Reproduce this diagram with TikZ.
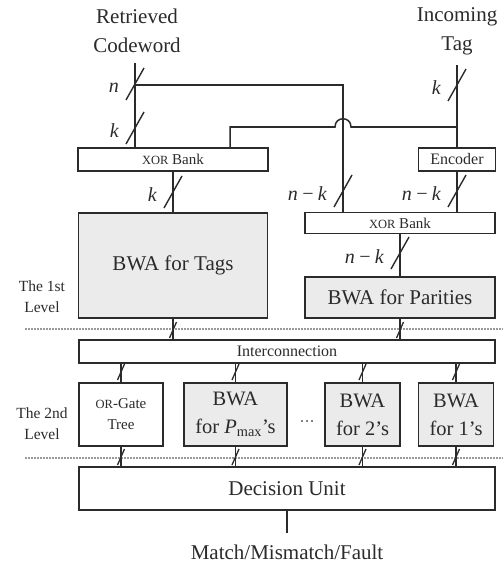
\documentclass[tikz,border=0pt]{standalone}
\usepackage{fontspec}
\setmainfont{Liberation Serif}
\usetikzlibrary{calc}
\definecolor{ink}{HTML}{2B2B2B}
\definecolor{boxgray}{HTML}{EBEBEB}
\definecolor{dotgray}{HTML}{9A9A9A}
\newcommand\fsz[2]{\fontsize{#1}{#2}\selectfont}
\begin{document}
\begin{tikzpicture}[x=1pt,y=-1pt,
  wire/.style={draw=ink,line width=1.5pt},
  blk/.style={draw=ink,line width=1.8pt,inner sep=0pt,text=ink},
  grayblk/.style={blk,fill=boxgray},
  lbl/.style={text=ink,inner sep=0pt},
  bw/.style={lbl,font=\fsz{20}{24}\itshape,anchor=east},
  dotline/.style={draw=dotgray,line width=1.2pt,dash pattern=on 1.5pt off 1.5pt},
  slashbig/.pic={\draw[draw=ink,line width=1.4pt] (-9,16) -- (9,-16);},
  slashsmall/.pic={\draw[draw=ink,line width=1.3pt] (-3.5,8) -- (3.5,-8);}
]
\fill[white] (0,0) rectangle (503,567);
\useasboundingbox (0,0) rectangle (503,567);

% texts
\node[lbl,align=center,font=\fsz{21}{29}] (rc) at (137,31) {Retrieved\\Codeword};
\node[lbl,align=center,font=\fsz{21}{29}] (it) at (457,31) {Incoming\\Tag};
\node[lbl,align=center,font=\fsz{15.5}{21}] (lv1) at (42,297) {The 1st\\Level};
\node[lbl,align=center,font=\fsz{15.5}{21}] (lv2) at (42,424) {The 2nd\\Level};

% blocks
\node[blk,minimum width=190pt,minimum height=23pt,font=\fsz{15}{15}] (xor1) at (173,159.5) {{\fsz{12.5}{12.5}XOR} Bank};
\node[blk,minimum width=77pt,minimum height=23pt,font=\fsz{16}{16}] (enc) at (457,159.5) {Encoder};
\node[grayblk,minimum width=189pt,minimum height=105pt,font=\fsz{21}{21}] (tags) at (173,265.5) {BWA for Tags};
\node[blk,minimum width=190pt,minimum height=21pt,font=\fsz{15}{15}] (xor2) at (400,223) {{\fsz{12.5}{12.5}XOR} Bank};
\node[grayblk,minimum width=190pt,minimum height=41pt,font=\fsz{21}{21}] (par) at (400,297.5) {BWA for Parities};
\node[blk,minimum width=416pt,minimum height=23pt,font=\fsz{16}{16}] (inter) at (287,351.5) {Interconnection};
\node[blk,minimum width=84pt,minimum height=63pt,align=center,font=\fsz{15}{21}] (orb) at (121,414.5) {{\fsz{12.5}{12.5}OR}-Gate\\Tree};
\node[grayblk,minimum width=103pt,minimum height=63pt,align=center,font=\fsz{20.5}{28}] (pmax) at (235.5,414.5) {BWA\\for \textit{P}\textsubscript{max}'s};
\node[grayblk,minimum width=75pt,minimum height=63pt,align=center,font=\fsz{20.5}{28}] (two) at (362.5,414.5) {BWA\\for 2's};
\node[grayblk,minimum width=75pt,minimum height=63pt,align=center,font=\fsz{20.5}{28}] (one) at (456,414.5) {BWA\\for 1's};
\node[lbl,font=\fsz{15}{15}] (dots) at (307,424) {···};
\node[blk,minimum width=416pt,minimum height=43pt,font=\fsz{21}{21}] (dec) at (287,488.5) {Decision Unit};
\node[lbl,font=\fsz{21}{21}] (out) at (287,552) {Match/Mismatch/Fault};

% level separators
\draw[dotline] (25,329) -- (503,329);
\draw[dotline] (25,458) -- (503,458);

% wires
\coordinate (rcs) at (135,63);
\coordinate (its) at (457,65);
\coordinate (jn) at (135,85);
\coordinate (cn) at (343,85);
\coordinate (jk) at (457,127);
\coordinate (ck) at (230,127);
\coordinate (hopR) at (351,127);
\coordinate (hopL) at (335,127);
\coordinate (oute) at (287,533);

\draw[wire] (rcs) -- (rcs |- xor1.north);
\draw[wire] (jn) -- (cn) -- (cn |- xor2.north);
\draw[wire] (its) -- (its |- enc.north);
\draw[wire] (jk) -- (hopR) .. controls ($(hopR)+(0,-11)$) and ($(hopL)+(0,-11)$) .. (hopL) -- (ck) -- (ck |- xor1.north);
\draw[wire] (xor1.south) -- (tags.north);
\draw[wire] (enc.south) -- (enc.south |- xor2.north);
\draw[wire] (xor2.south) -- (par.north);
\draw[wire] (tags.south) -- (tags.south |- inter.north);
\draw[wire] (par.south) -- (par.south |- inter.north);
\foreach \b in {orb,pmax,two,one} {
  \draw[wire] (\b.north |- inter.south) -- (\b.north);
  \draw[wire] (\b.south) -- (\b.south |- dec.north);
}
\draw[wire] (dec.south) -- (oute);

% bus width marks
\pic at (135,84) {slashbig};  \node[bw] (ln) at (119,88) {n};
\pic at (135,128) {slashbig}; \node[bw] (lk1) at (119,131) {k};
\pic at (457,85) {slashbig};  \node[bw] (lk2) at (441,88) {k};
\pic at (173,192) {slashbig}; \node[bw] (lk3) at (157,195) {k};
\pic at (343,191) {slashbig}; \node[bw] (lnk1) at (327,194) {n\,−\,k};
\pic at (457,191) {slashbig}; \node[bw] (lnk2) at (441,194) {n\,−\,k};
\pic at (400,253) {slashbig}; \node[bw] (lnk3) at (384,257) {n\,−\,k};
\pic at (173,330) {slashsmall};
\pic at (400,330) {slashsmall};
\foreach \x in {121,235.5,362.5,456} {
  \pic at (\x,372) {slashsmall};
  \pic at (\x,457) {slashsmall};
}
\end{tikzpicture}
\end{document}
